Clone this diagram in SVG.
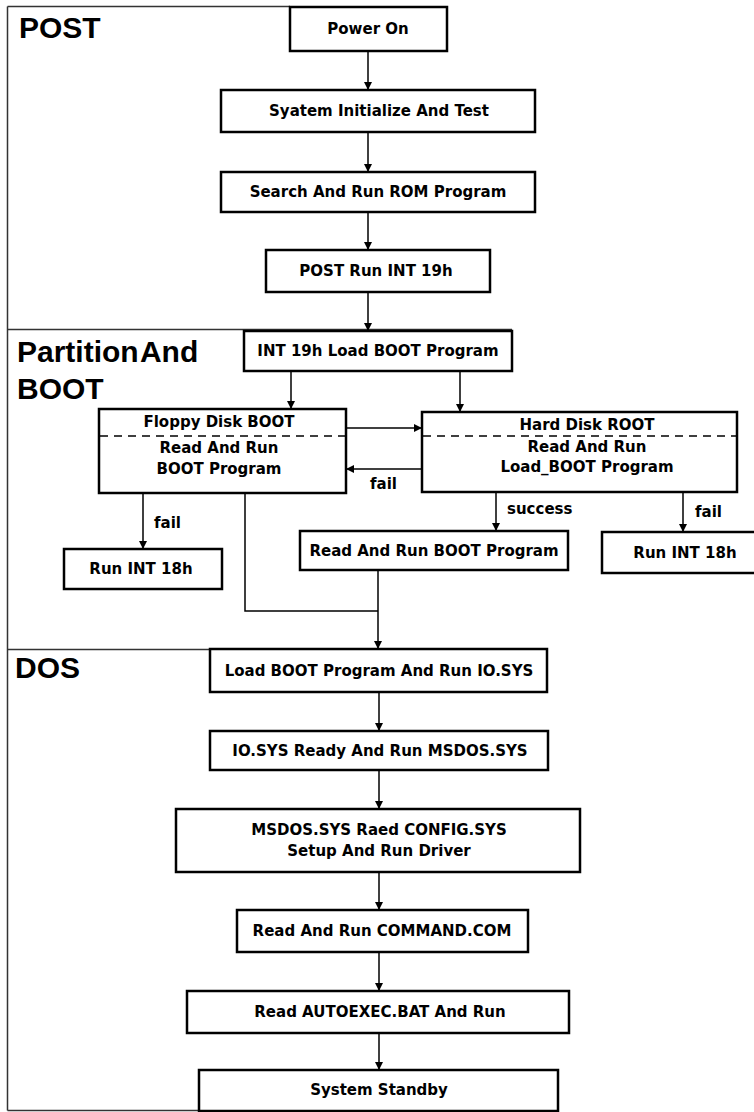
<svg xmlns="http://www.w3.org/2000/svg" width="754" height="1112" viewBox="0 0 754 1112">
<style>
.bx{fill:#fff;stroke:#000;stroke-width:2.5}
.t{font-family:"DejaVu Sans",Verdana,sans-serif;font-weight:bold;font-size:15px;fill:#000;text-anchor:middle}
.lb{font-family:"DejaVu Sans",Verdana,sans-serif;font-weight:bold;font-size:15px;fill:#000}
.sec{font-family:"Liberation Sans",Arial,sans-serif;font-weight:bold;font-size:30px;fill:#000}
.fr{fill:none;stroke:#333;stroke-width:1.5}
.c{fill:none;stroke:#000;stroke-width:1.5}
.ca{fill:none;stroke:#000;stroke-width:1.5;marker-end:url(#ah)}
.dash{stroke:#000;stroke-width:1.5;stroke-dasharray:8 6}
</style>
<defs>
<marker id="ah" markerUnits="userSpaceOnUse" viewBox="0 0 10 10" refX="10" refY="5" markerWidth="8" markerHeight="9" orient="auto">
<path d="M0,0 L10,5 L0,10 z" fill="#000"/>
</marker>
</defs>
<rect width="754" height="1112" fill="#fff"/>
<g id="frame">
<path class="fr" d="M7.5,6.5 V1110.5 M7.5,6.5 H290 M7.5,329.5 H512 M7.5,649.5 H546 M7.5,1110.5 H199"/>
<text class="sec" x="19" y="38">POST</text>
<text class="sec" x="17" y="362" word-spacing="-6">Partition And</text>
<text class="sec" x="17" y="399">BOOT</text>
<text class="sec" x="15" y="678">DOS</text>
</g>
<g id="connectors">
<path class="ca" d="M368,51 V90"/>
<path class="ca" d="M368,132 V172"/>
<path class="ca" d="M368,212 V250"/>
<path class="ca" d="M368,292 V331"/>
<path class="ca" d="M291,371 V409"/>
<path class="ca" d="M460,371 V412"/>
<path class="ca" d="M346,428 H422"/>
<path class="ca" d="M422,469 H346"/>
<path class="ca" d="M143,493 V549"/>
<path class="ca" d="M496,492 V531"/>
<path class="ca" d="M683,492 V532"/>
<path class="c" d="M245,493 V611 H378"/>
<path class="ca" d="M378,570 V649"/>
<path class="ca" d="M379,692 V731"/>
<path class="ca" d="M379,770 V809"/>
<path class="ca" d="M379,872 V910"/>
<path class="ca" d="M379,952 V991"/>
<path class="ca" d="M379,1033 V1070"/>
<text class="lb" x="370" y="489">fail</text>
<text class="lb" x="154" y="528">fail</text>
<text class="lb" x="507" y="514">success</text>
<text class="lb" x="695" y="517">fail</text>
</g>
<g id="power-on"><rect class="bx" x="290" y="7" width="157" height="44"/><text class="t" x="368" y="34">Power On</text></g>
<g id="sys-init"><rect class="bx" x="221" y="90" width="314" height="42"/><text class="t" x="379" y="116">Syatem Initialize And Test</text></g>
<g id="search-rom"><rect class="bx" x="221" y="172" width="314" height="40"/><text class="t" x="378" y="197">Search And Run ROM Program</text></g>
<g id="post-int19"><rect class="bx" x="266" y="250" width="224" height="42"/><text class="t" x="376" y="276">POST Run INT 19h</text></g>
<g id="int19-load"><rect class="bx" x="244" y="331" width="268" height="40"/><text class="t" x="378" y="356">INT 19h Load BOOT Program</text></g>
<g id="floppy"><rect class="bx" x="99" y="409" width="247" height="84"/><line class="dash" x1="100" y1="436" x2="345" y2="436"/><text class="t" x="219" y="427">Floppy Disk BOOT</text><text class="t" x="219" y="453">Read And Run</text><text class="t" x="219" y="474">BOOT Program</text></g>
<g id="harddisk"><rect class="bx" x="422" y="412" width="315" height="80"/><line class="dash" x1="423" y1="436" x2="736" y2="436"/><text class="t" x="587" y="430">Hard Disk ROOT</text><text class="t" x="587" y="452">Read And Run</text><text class="t" x="587" y="472">Load_BOOT Program</text></g>
<g id="run-int18-left"><rect class="bx" x="64" y="549" width="158" height="40"/><text class="t" x="141" y="574">Run INT 18h</text></g>
<g id="read-run-boot"><rect class="bx" x="300" y="531" width="268" height="39"/><text class="t" x="434" y="556">Read And Run BOOT Program</text></g>
<g id="run-int18-right"><rect class="bx" x="602" y="532" width="180" height="41"/><text class="t" x="685" y="558">Run INT 18h</text></g>
<g id="load-iosys"><rect class="bx" x="210" y="649" width="337" height="43"/><text class="t" x="379" y="676">Load BOOT Program And Run IO.SYS</text></g>
<g id="iosys-msdos"><rect class="bx" x="210" y="731" width="338" height="39"/><text class="t" x="380" y="756">IO.SYS Ready And Run MSDOS.SYS</text></g>
<g id="msdos-config"><rect class="bx" x="176" y="809" width="404" height="63"/><text class="t" x="379" y="835">MSDOS.SYS Raed CONFIG.SYS</text><text class="t" x="379" y="856">Setup And Run Driver</text></g>
<g id="command-com"><rect class="bx" x="237" y="910" width="291" height="42"/><text class="t" x="382" y="936">Read And Run COMMAND.COM</text></g>
<g id="autoexec"><rect class="bx" x="187" y="991" width="382" height="42"/><text class="t" x="380" y="1017">Read AUTOEXEC.BAT And Run</text></g>
<g id="standby"><rect class="bx" x="199" y="1070" width="359" height="41"/><text class="t" x="379" y="1095">System Standby</text></g>
</svg>
